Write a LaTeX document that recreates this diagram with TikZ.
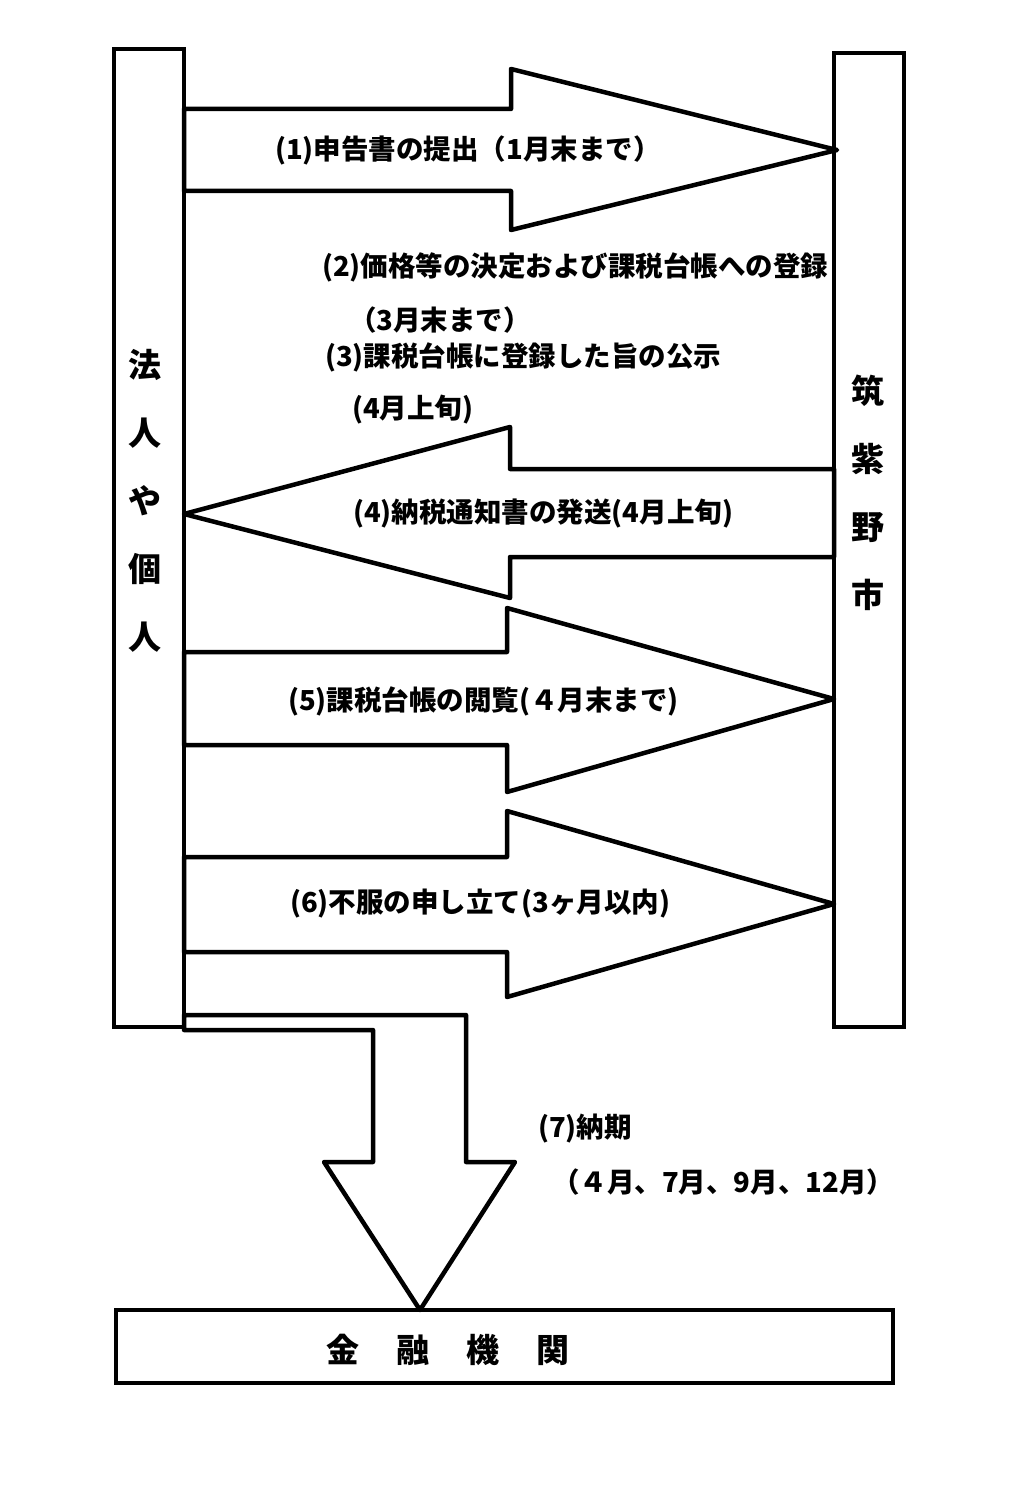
\documentclass[tikz,border=0pt]{standalone}
\usepackage{fontspec}
\setmainfont{Noto Sans CJK JP}
\usetikzlibrary{
    positioning,
    calc
}
\tikzset{
    party/.style={
        draw,
        line width=4.5pt,
        inner sep=0pt,
        outer sep=0pt,
        minimum width=70pt
    },
    bigarrow/.style={
        draw,
        line width=4.5pt,
        line join=round
    },
    steplabel/.style={
        anchor=west,
        inner sep=0pt,
        font=\fontsize{27.5}{32}\selectfont\bfseries
    },
    vlabel/.style={
        align=center,
        inner sep=0pt,
        font=\fontsize{33}{68}\selectfont\bfseries
    }
}

\begin{document}
\begin{tikzpicture}[x=1pt, y=-1pt]
        \useasboundingbox (0,0) rectangle (1017,1495);

        % Houjin ya kojin (left column)
        \node [party, minimum height=978pt] (person) at (149,538) {};
        \node [vlabel] (person_label) at (145,501) {法\\人\\や\\個\\人};

        % Chikushino-shi (right column)
        \node [party, minimum height=974pt] (city) at (869,540) {};
        \node [vlabel] (city_label) at (868,493) {筑\\紫\\野\\市};

        % Kinyuu kikan (bottom box)
        \node [party, minimum width=777pt, minimum height=73pt] (bank) at (504.5,1346.5) {};
        \node [vlabel] (bank_label) at (448,1350) {金\hspace{37pt}融\hspace{37pt}機\hspace{37pt}関};

        % (1) person to city
        \draw [bigarrow] (person.east |- 0,109) -- (511,109) -- (511,69)
            -- ($(city.west |- 0,150)+(3,0)$) -- (511,230) -- (511,191)
            -- (person.east |- 0,191) -- cycle;
        \node [steplabel] (step1) at (275,150) {(1)申告書の提出（1月末まで）};

        % (2) and (3) text only
        \node [steplabel] (step2) at (322,267) {(2)価格等の決定および課税台帳への登録};
        \node [steplabel] (step2_date) at (349,320) {（3月末まで）};
        \node [steplabel] (step3) at (325,357) {(3)課税台帳に登録した旨の公示};
        \node [steplabel] (step3_date) at (352,410) {(4月上旬)};

        % (4) city to person
        \draw [bigarrow] (person.east |- 0,514) -- (510,427) -- (510,469)
            -- (city.west |- 0,469) -- (city.west |- 0,557) -- (510,557)
            -- (510,598) -- cycle;
        \node [steplabel] (step4) at (353,514) {(4)納税通知書の発送(4月上旬)};

        % (5) person to city
        \draw [bigarrow] (person.east |- 0,652) -- (507,652) -- (507,608)
            -- (city.west |- 0,699) -- (507,792) -- (507,745)
            -- (person.east |- 0,745) -- cycle;
        \node [steplabel] (step5) at (288,701) {(5)課税台帳の閲覧(４月末まで)};

        % (6) person to city
        \draw [bigarrow] (person.east |- 0,857) -- (507,857) -- (507,811)
            -- (city.west |- 0,904) -- (507,997) -- (507,952)
            -- (person.east |- 0,952) -- cycle;
        \node [steplabel] (step6) at (290,904) {(6)不服の申し立て(3ヶ月以内)};

        % (7) person down to bank
        \draw [bigarrow] (person.east |- 0,1015) -- (466,1015) -- (466,1162)
            -- (515,1162) -- (bank.north -| 420,0) -- (324,1162) -- (373,1162)
            -- (373,1030) -- (person.east |- 0,1030) -- cycle;
        \node [steplabel] (step7) at (538,1129) {(7)納期};
        \node [steplabel] (step7_date) at (552,1182) {（４月、7月、9月、12月）};
    \end{tikzpicture}
\end{document}
